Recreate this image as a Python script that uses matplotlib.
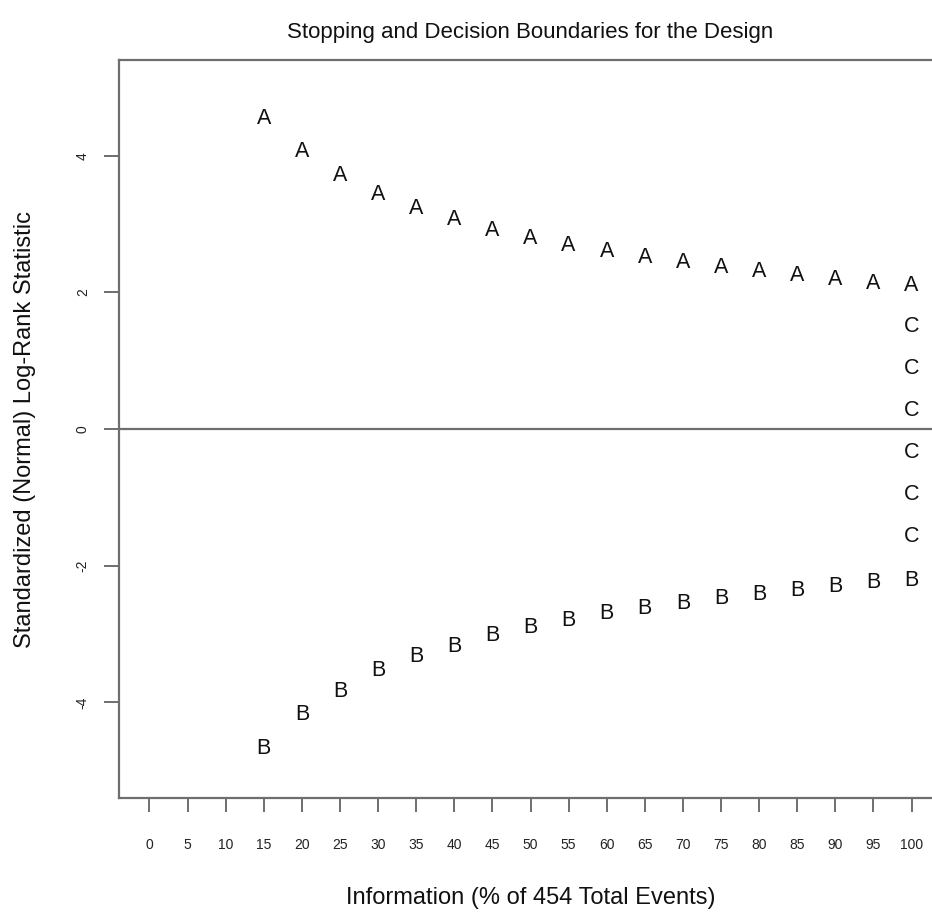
import matplotlib
matplotlib.use("Agg")
from matplotlib import pyplot as plt
import numpy as np

plt.rcParams['font.family'] = ['Liberation Sans', 'DejaVu Sans']

# 情報量 (%)
info = [15, 20, 25, 30, 35, 40, 45, 50, 55, 60, 65, 70, 75, 80, 85, 90, 95, 100]
# 上側境界 A
upper = [4.58, 4.10, 3.75, 3.47, 3.26, 3.10, 2.94, 2.83, 2.72, 2.64,
         2.55, 2.47, 2.40, 2.34, 2.28, 2.23, 2.17, 2.14]
# 下側境界 B
lower = [-4.64, -4.14, -3.80, -3.50, -3.29, -3.15, -2.99, -2.87, -2.77, -2.66,
         -2.59, -2.52, -2.45, -2.39, -2.33, -2.27, -2.21, -2.18]
# 最終解析の継続領域 C
c_x = [100, 100, 100, 100, 100, 100]
c_y = [1.53, 0.92, 0.31, -0.31, -0.92, -1.53]

xticks = list(range(0, 101, 5))
yticks = [-4, -2, 0, 2, 4]

W, H = 932, 916
fig = plt.figure(figsize=(W / 100, H / 100), dpi=100)
# 右端の枠は画像の外にはみ出す
ax = fig.add_axes([119 / W, 1 - 798 / H, (942 - 119) / W, (798 - 60) / H])

ax.set_xlim(-4, 104)
ax.set_ylim(-5.4, 5.4)

gray = '#6e6e6e'
for s in ax.spines.values():
    s.set_color(gray)
    s.set_linewidth(1.6)

ax.axhline(0, color=gray, lw=1.6)

fs = 15.5
txt = '#111111'
for x, y in zip(info, upper):
    ax.text(x, y, 'A', ha='center', va='center_baseline', fontsize=fs, color=txt)
for x, y in zip(info, lower):
    ax.text(x, y, 'B', ha='center', va='center_baseline', fontsize=fs, color=txt)
for x, y in zip(c_x, c_y):
    ax.text(x, y, 'C', ha='center', va='center_baseline', fontsize=fs, color=txt)

ax.set_xticks(xticks)
ax.set_xticklabels([str(v) for v in xticks], fontsize=10, color='#222222')
ax.set_yticks(yticks)
ax.set_yticklabels([str(v) for v in yticks], fontsize=10, rotation=90, va='center',
                   color='#222222')
ax.tick_params(axis='x', direction='out', length=10, width=1.4, color=gray, pad=19)
ax.tick_params(axis='y', direction='out', length=11, width=1.4, color=gray, pad=10)

ax.set_title('Stopping and Decision Boundaries for the Design', fontsize=16,
             pad=16, color=txt)
ax.set_xlabel('Information (% of 454 Total Events)', fontsize=17, labelpad=25, color=txt)
ax.set_ylabel('Standardized (Normal) Log-Rank Statistic', fontsize=17, labelpad=29,
              color=txt)

fig.savefig('out.png', dpi=100)
